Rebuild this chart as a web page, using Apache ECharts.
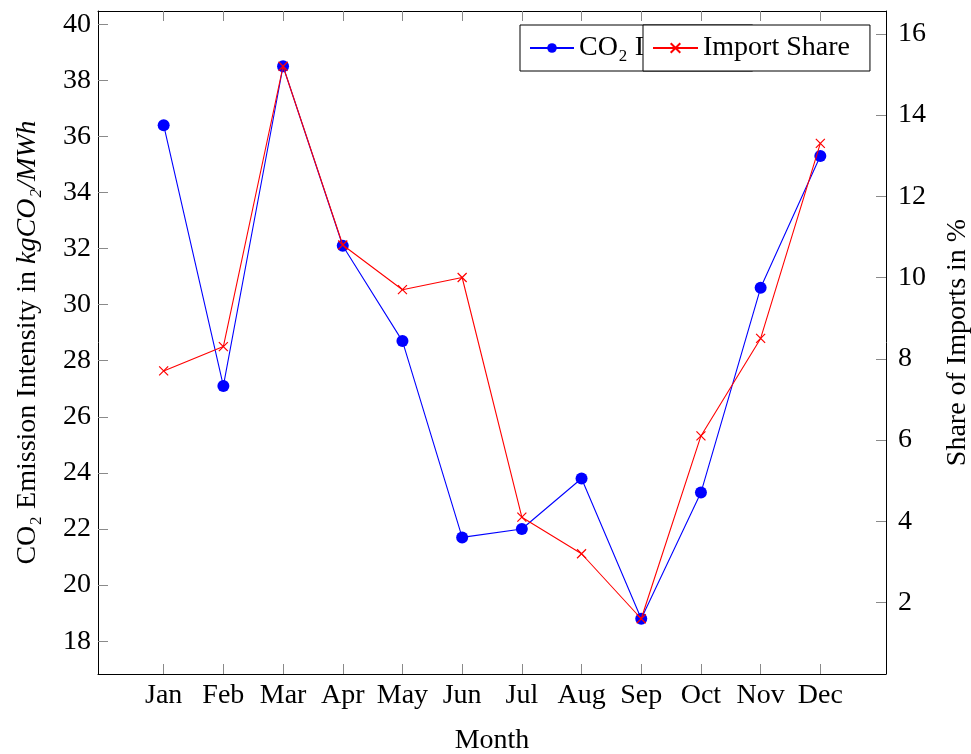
<!DOCTYPE html>
<html>
<head>
<meta charset="utf-8">
<script src="https://cdn.jsdelivr.net/npm/echarts@6/dist/echarts.min.js"></script>
<style>html,body{margin:0;padding:0;background:#fff;overflow:hidden}#c{width:971px;height:754px}</style>
</head>
<body>
<div id="c"></div>
<script>
const months = ['Jan','Feb','Mar','Apr','May','Jun','Jul','Aug','Sep','Oct','Nov','Dec'];
const co2Intensity = [36.4, 27.1, 38.5, 32.1, 28.7, 21.7, 22.0, 23.8, 18.8, 23.3, 30.6, 35.3];
const importShare = [7.7, 8.3, 15.2, 10.8, 9.7, 10.0, 4.1, 3.2, 1.6, 6.1, 8.5, 13.3];
const leftTicks = [18, 20, 22, 24, 26, 28, 30, 32, 34, 36, 38, 40];
const rightTicks = [2, 4, 6, 8, 10, 12, 14, 16];
const monthIdx = months.map((m, i) => i);

const FONT = '"Liberation Serif", "Times New Roman", serif';
const FS = 28;
const tickStyle = { color: '#8a8a8a', width: 1 };
const lineAxis = { show: true, onZero: false, lineStyle: { color: '#000', width: 1 } };
const crossPath = 'path://M0,0L10,10M10,0L0,10';

const chart = echarts.init(document.getElementById('c'), null, { renderer: 'canvas' });
chart.setOption({
  animation: false,
  backgroundColor: '#fff',
  textStyle: { fontFamily: FONT, color: '#000' },
  grid: { left: 98, right: 85, top: 11, bottom: 80, containLabel: false, outerBoundsMode: 'none' },
  legend: [
    {
      data: ['CO₂ Intensity'],
      left: 520, top: 25, orient: 'horizontal',
      padding: [9, 20, 9, 9],
      itemWidth: 44, itemHeight: 12,
      backgroundColor: '#fff', borderColor: '#000', borderWidth: 1, borderRadius: 0,
      textStyle: { fontFamily: FONT, fontSize: FS, color: '#000' },
      z: 4
    },
    {
      data: ['Import Share'],
      left: 643, top: 25, orient: 'horizontal',
      padding: [9, 20, 9, 9],
      itemWidth: 45, itemHeight: 12,
      backgroundColor: '#fff', borderColor: '#000', borderWidth: 1, borderRadius: 0,
      textStyle: { fontFamily: FONT, fontSize: FS, color: '#000' },
      z: 6
    }
  ],
  xAxis: [
    {
      type: 'value', position: 'bottom', min: -1.1, max: 12.1,
      name: 'Month', nameLocation: 'middle', nameGap: 53,
      nameTextStyle: { fontFamily: FONT, fontSize: FS, color: '#000' },
      axisLine: lineAxis,
      axisTick: { show: true, inside: true, length: 10, lineStyle: tickStyle, customValues: monthIdx },
      axisLabel: { show: true, margin: 8, fontFamily: FONT, fontSize: FS, color: '#000',
        customValues: monthIdx, formatter: v => months[Math.round(v)] },
      splitLine: { show: false }
    },
    {
      type: 'value', position: 'top', min: -1.1, max: 12.1,
      axisLine: lineAxis,
      axisTick: { show: true, inside: true, length: 10, lineStyle: tickStyle, customValues: monthIdx },
      axisLabel: { show: false },
      splitLine: { show: false }
    }
  ],
  yAxis: [
    {
      type: 'value', position: 'left', min: 16.83, max: 40.47,
      name: '{r|CO₂ Emission Intensity in }{i|kgCO₂/MWh}',
      nameLocation: 'middle', nameGap: 56, nameRotate: 90,
      nameTextStyle: { fontFamily: FONT, fontSize: FS, color: '#000',
        rich: { r: { fontFamily: FONT, fontSize: FS, color: '#000' },
                i: { fontFamily: FONT, fontSize: FS, fontStyle: 'italic', color: '#000' } } },
      axisLine: lineAxis,
      axisTick: { show: true, inside: true, length: 10, lineStyle: tickStyle, customValues: leftTicks },
      axisLabel: { show: true, margin: 7, fontFamily: FONT, fontSize: FS, color: '#000', customValues: leftTicks },
      splitLine: { show: false }
    },
    {
      type: 'value', position: 'right', min: 0.24, max: 16.56,
      name: 'Share of Imports in %',
      nameLocation: 'middle', nameGap: 58, nameRotate: 90,
      nameTextStyle: { fontFamily: FONT, fontSize: FS, color: '#000' },
      axisLine: lineAxis,
      axisTick: { show: true, inside: true, length: 10, lineStyle: tickStyle, customValues: rightTicks },
      axisLabel: { show: true, margin: 12, fontFamily: FONT, fontSize: FS, color: '#000', customValues: rightTicks },
      splitLine: { show: false }
    }
  ],
  series: [
    {
      name: 'CO₂ Intensity', type: 'line', xAxisIndex: 0, yAxisIndex: 0,
      data: co2Intensity.map((v, i) => [i, v]),
      symbol: 'circle', symbolSize: 12,
      lineStyle: { color: '#0000ff', width: 1.1 },
      itemStyle: { color: '#0000ff' },
      z: 2
    },
    {
      name: 'Import Share', type: 'line', xAxisIndex: 0, yAxisIndex: 1,
      data: importShare.map((v, i) => [i, v]),
      symbol: crossPath, symbolSize: 9,
      lineStyle: { color: '#ff0000', width: 1.1 },
      itemStyle: { color: '#ff0000', borderColor: '#ff0000', borderWidth: 1.2 },
      z: 3
    }
  ]
});
</script>
</body>
</html>
